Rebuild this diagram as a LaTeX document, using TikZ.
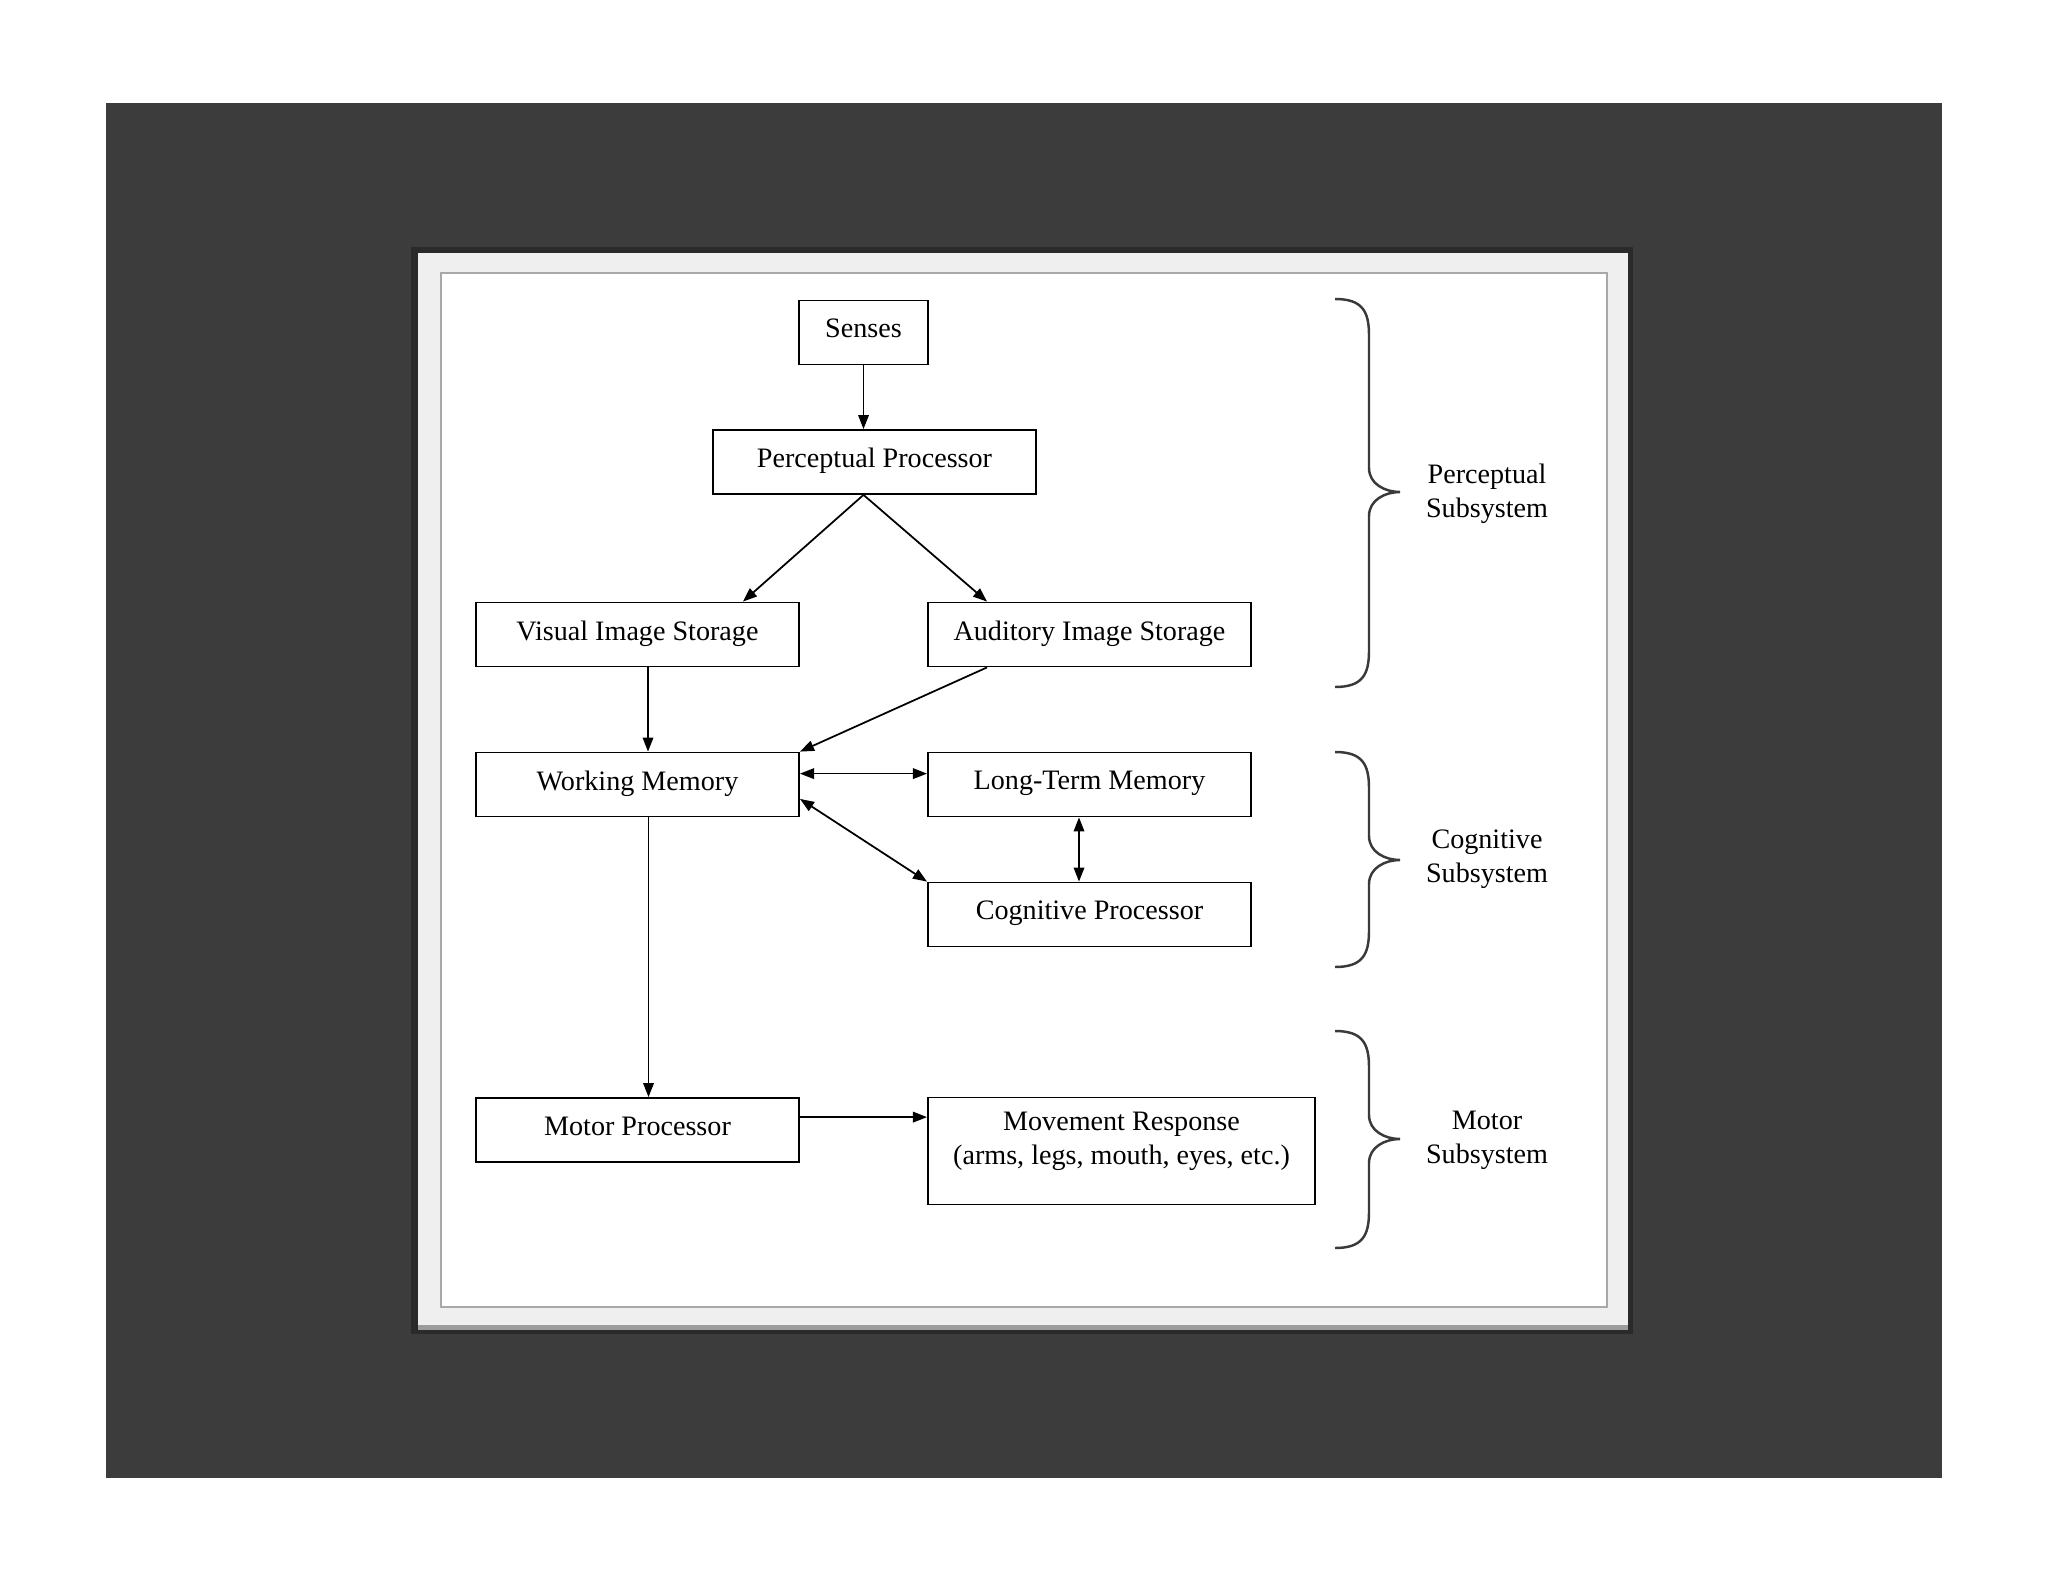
\documentclass[tikz,border=0pt]{standalone}
\usepackage{fontspec}
\setmainfont{Liberation Serif}
\usetikzlibrary{arrows.meta,positioning}
\definecolor{mhBoard}{HTML}{3C3C3C}
\definecolor{mhShadow}{HTML}{1E1E1E}
\definecolor{mhMat}{HTML}{EFEFEF}
\definecolor{mhMatEdge}{HTML}{9C9C9C}
\definecolor{mhPanelLine}{HTML}{A8A8A8}
\definecolor{mhBrace}{HTML}{3A3A3A}

\begin{document}
\begin{tikzpicture}[
      x=0.01cm,y=-0.01cm,
      font=\fontsize{8}{9.7}\selectfont,
      box/.style={draw=black,fill=white,line width=0.5pt,minimum height=6.4mm,
                  minimum width=32.3mm,align=center,inner sep=2pt,text depth=0.5ex},
      arr/.style={-{Triangle[length=4pt,width=3pt]},line width=0.5pt},
      arrr/.style={{Triangle[length=4pt,width=3pt]}-{Triangle[length=4pt,width=3pt]},line width=0.5pt},
      brc/.style={draw=mhBrace,line width=0.7pt},
      lbl/.style={align=center}
    ]
    \useasboundingbox (0,0) rectangle (2048,1582);

    % board, mat and panel
    \fill[mhBoard] (106,103) rectangle (1942,1478);
    \fill[mhShadow,opacity=0.6] (411,247) rectangle (1633,1334);
    \fill[mhMat] (418,253) rectangle (1628,1330);
    \fill[mhMatEdge] (418,1325) rectangle (1628,1330);
    \filldraw[fill=white,draw=mhPanelLine,line width=0.8pt] (441,273) rectangle (1607,1307);

    \node[box,minimum width=12.9mm] (senses) at (863.5,332.5) {Senses};
    \node[box] (percProc)  at ( 874.5, 462.0) {Perceptual Processor};
    \node[box] (visStore)  at ( 637.5, 634.5) {Visual Image Storage};
    \node[box] (audStore)  at (1089.5, 634.5) {Auditory Image Storage};
    \node[box] (workMem)   at ( 637.5, 784.5) {Working Memory};
    \node[box] (longMem)   at (1089.5, 784.5) {Long-Term Memory};
    \node[box] (cogProc)   at (1089.5, 914.5) {Cognitive Processor};
    \node[box] (motorProc) at ( 637.5,1130.0) {Motor Processor};
    \node[box,minimum width=38.7mm,minimum height=10.7mm,text depth=1.6ex] (moveResp) at (1121.5,1151.0)
      {Movement Response\\(arms, legs, mouth, eyes, etc.)};

    \draw[arr]  (senses) -- (senses |- percProc.north);
    \draw[arr]  (percProc.south -| senses) -- ([xshift=-5.7mm]visStore.north east);
    \draw[arr]  (percProc.south -| senses) -- ([xshift=6mm]audStore.north west);
    \draw[arr]  ([xshift=1.05mm]visStore.south) -- ([xshift=1.05mm]workMem.north);
    \draw[arr]  ([xshift=6mm]audStore.south west) -- (workMem.north east);
    \draw[arrr] ([yshift=-2.2mm]workMem.north east) -- ([yshift=-2.2mm]workMem.north east -| longMem.west);
    \draw[arrr] ([yshift=1.85mm]workMem.south east) -- (cogProc.north west);
    \draw[arrr] ([xshift=-1.05mm]longMem.south) -- ([xshift=-1.05mm]cogProc.north);
    \draw[arr]  ([xshift=1.1mm]workMem.south) -- ([xshift=1.1mm]motorProc.north);
    \draw[arr]  ([yshift=-2mm]motorProc.north east) -- ([yshift=-2mm]motorProc.north east -| moveResp.west);

    % the three subsystem braces: top / tip / bottom
    \foreach \t/\m/\b in {299/492/687, 752/860/967, 1031/1139/1248}{
      \draw[brc] (1335,\t) .. controls (1362,\t) and (1369,\t+12) .. (1369,\t+36)
        -- (1369,\m-24) .. controls (1369,\m-8) and (1385,\m) .. (1400,\m)
        .. controls (1385,\m) and (1369,\m+8) .. (1369,\m+24)
        -- (1369,\b-36) .. controls (1369,\b-12) and (1362,\b) .. (1335,\b);
    }
    \node[lbl] (percSub) at (1487,494) {Perceptual\\Subsystem};
    \node[lbl] (cogSub)  at (1487,859) {Cognitive\\Subsystem};
    \node[lbl] (motSub)  at (1487,1140) {Motor\\Subsystem};
  \end{tikzpicture}
\end{document}
